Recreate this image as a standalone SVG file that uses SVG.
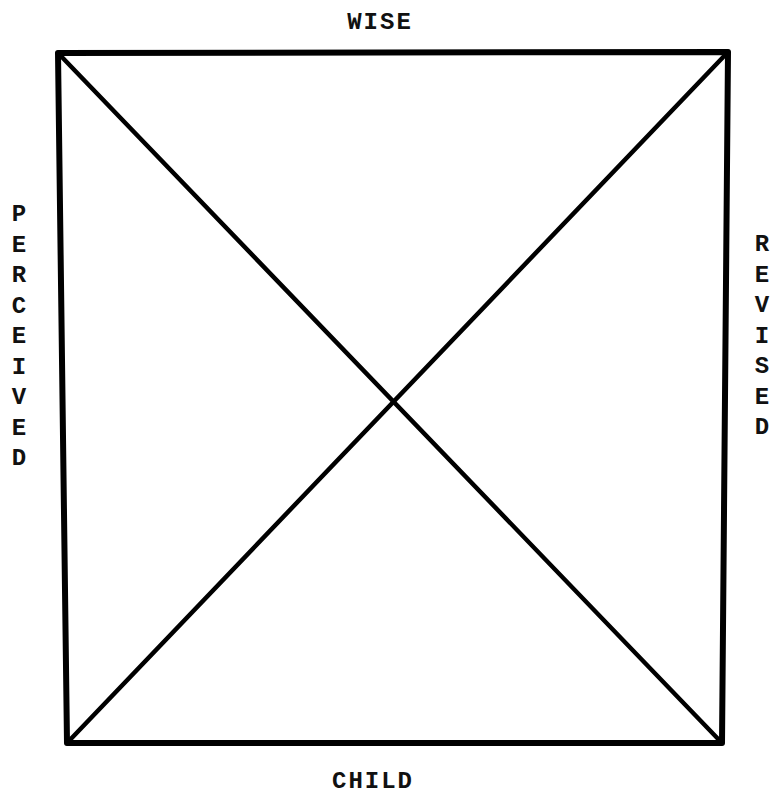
<svg xmlns="http://www.w3.org/2000/svg" width="772" height="797" viewBox="0 0 772 797">
<style>
.lbl{font-family:"Liberation Mono","Courier New",monospace;font-weight:bold;font-size:24px;fill:#111;text-anchor:middle}
.frame{fill:none;stroke:#000;stroke-width:6;stroke-linejoin:round}
.diag{stroke:#000;stroke-width:4.5;stroke-linecap:round}
</style>
<rect width="772" height="797" fill="#fff"/>
<g id="connectors">
<polygon class="frame" points="58,53 728,52 722,743 67,743"/>
<line class="diag" x1="58" y1="53" x2="722" y2="743"/>
<line class="diag" x1="67" y1="743" x2="728" y2="52"/>
</g>
<g id="wise"><text class="lbl" x="380" y="29" letter-spacing="2">WISE</text></g>
<g id="child"><text class="lbl" x="373" y="788" letter-spacing="2">CHILD</text></g>
<g id="perceived">
<text class="lbl" x="19" y="221">P</text>
<text class="lbl" x="19" y="251.5">E</text>
<text class="lbl" x="19" y="282">R</text>
<text class="lbl" x="19" y="312.5">C</text>
<text class="lbl" x="19" y="343">E</text>
<text class="lbl" x="19" y="373.5">I</text>
<text class="lbl" x="19" y="404">V</text>
<text class="lbl" x="19" y="434.5">E</text>
<text class="lbl" x="19" y="465">D</text>
</g>
<g id="revised">
<text class="lbl" x="762" y="251">R</text>
<text class="lbl" x="762" y="281.5">E</text>
<text class="lbl" x="762" y="312">V</text>
<text class="lbl" x="762" y="342.5">I</text>
<text class="lbl" x="762" y="373">S</text>
<text class="lbl" x="762" y="403.5">E</text>
<text class="lbl" x="762" y="434">D</text>
</g>
</svg>
